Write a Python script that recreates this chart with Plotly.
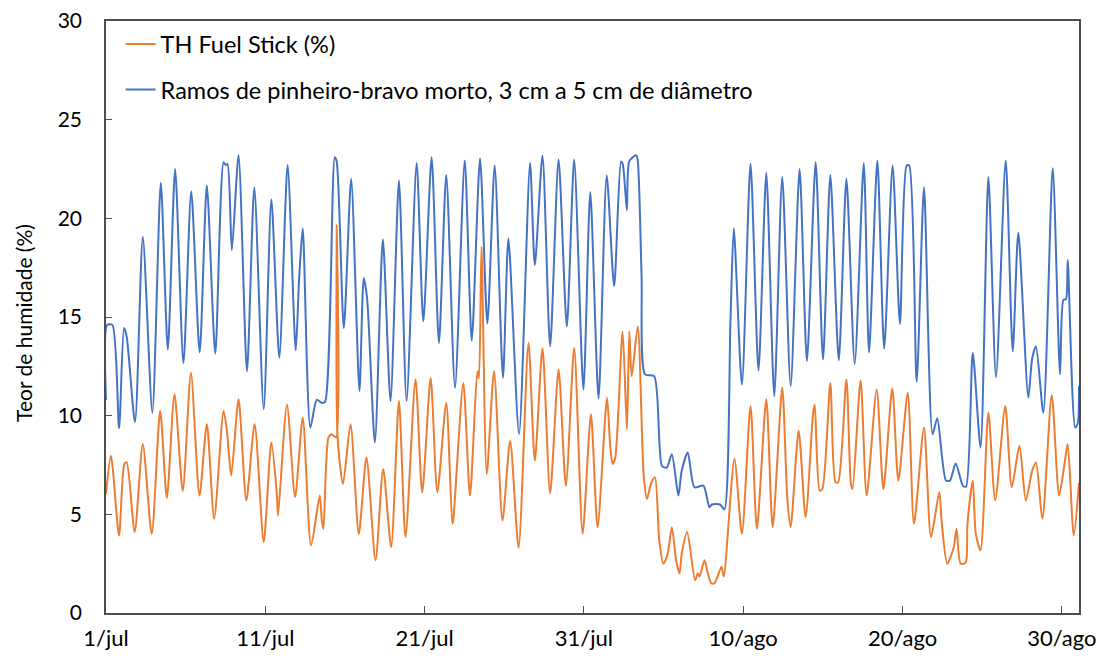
import pandas as pd
import plotly.graph_objects as go

# Days since 1 July (fractional) and moisture content (%)
orange_day = [0.0, 0.31, 0.82, 1.15, 1.30, 1.80, 2.31, 2.87, 3.40, 3.82, 4.30, 4.82, 5.33, 5.87,
              6.33, 6.79, 7.38, 7.59, 7.86, 8.32, 8.81, 9.33, 9.90, 10.38, 10.73, 10.80, 11.36, 11.87,
              12.35, 12.87, 13.42, 13.55, 13.65, 13.96, 14.17, 14.44, 14.48, 14.53, 14.88, 15.35, 15.87,
              16.35, 16.92, 17.40, 17.90, 18.39, 18.80, 19.43, 19.85, 20.38, 20.80, 21.36, 21.74, 21.80,
              22.43, 22.85, 23.31, 23.41, 23.57, 23.90, 24.36, 24.89, 25.37, 25.90, 26.52, 26.92, 27.40,
              27.88, 28.41, 28.87, 29.39, 29.92, 30.44, 30.86, 31.45, 31.66, 31.80, 31.97, 32.43, 32.70,
              32.85, 33.00, 33.38, 33.75, 33.96, 34.21, 34.46, 34.73, 34.99, 35.26, 35.52, 35.79, 36.00,
              36.14, 36.48, 36.98, 37.15, 37.25, 37.57, 37.78, 37.99, 38.20, 38.64, 38.78, 39.45, 39.92,
              40.46, 40.86, 41.45, 41.85, 42.45, 42.77, 42.98, 43.48, 43.92, 44.38, 44.49, 44.80, 44.97,
              45.47, 45.79, 45.96, 46.48, 46.76, 46.86, 47.37, 47.75, 48.38, 48.80, 49.36, 49.74, 50.33,
              50.72, 51.35, 51.79, 52.31, 52.47, 52.81, 53.22, 53.39, 53.65, 53.96, 54.08, 54.41, 54.60,
              54.90, 55.39, 55.82, 56.45, 56.86, 57.34, 57.74, 58.14, 58.38, 58.78, 59.37, 59.83, 60.17,
              60.37, 60.75, 61.08]
orange_val = [6.04, 7.97, 3.93, 7.55, 7.63, 4.10, 8.56, 4.01, 10.24, 5.83, 11.08, 6.20, 12.17, 5.95,
              9.57, 4.77, 10.24, 9.23, 6.96, 10.83, 5.70, 9.57, 3.60, 8.64, 5.95, 4.94, 10.57, 5.87,
              9.90, 3.43, 5.95, 4.68, 4.26, 8.89, 9.06, 8.90, 19.65, 9.00, 6.54, 9.57, 4.02,
              7.88, 2.67, 7.30, 3.34, 10.74, 3.85, 11.83, 6.12, 11.90, 6.12, 10.66, 4.52, 4.70,
              11.66, 5.95, 12.25, 11.90, 18.56, 7.04, 12.25, 4.69, 8.72, 3.31, 13.68, 7.72, 13.40,
              6.07, 12.34, 6.45, 13.43, 4.02, 10.07, 4.35, 10.91, 8.39, 7.55, 7.88, 14.27, 9.31,
              14.27, 12.00, 14.52, 7.04, 5.78, 6.54, 6.88, 3.68, 2.50, 3.00, 4.35, 2.67, 2.00,
              3.00, 4.10, 1.66, 2.00, 1.85, 2.67, 2.00, 1.51, 1.51, 2.35, 1.85, 7.80, 4.02,
              10.49, 4.27, 10.83, 4.35, 11.41, 5.78, 4.35, 9.23, 4.86, 10.07, 10.57, 6.20, 6.28,
              11.66, 6.62, 6.62, 11.83, 6.54, 6.28, 11.78, 5.95, 11.33, 6.28, 11.38, 6.71, 11.16,
              4.52, 9.40, 3.85, 6.12, 4.52, 2.50, 3.34, 4.27, 2.50, 2.55, 4.52, 6.71, 4.02,
              3.18, 10.15, 5.70, 10.49, 6.37, 8.47, 5.70, 7.21, 7.63, 4.77, 11.04, 5.95, 7.55,
              8.56, 3.93, 6.60]

blue_day = [0.0, 0.07, 0.40, 0.82, 1.13, 1.30, 1.82, 2.31, 2.91, 3.44, 3.88, 4.34, 4.86, 5.35, 5.88,
            6.33, 6.86, 7.38, 7.52, 7.63, 7.90, 8.32, 8.85, 9.31, 9.90, 10.38, 10.88, 11.40, 11.91,
            12.12, 12.35, 12.83, 13.23, 13.55, 13.75, 14.36, 14.48, 14.93, 15.39, 15.91, 16.18, 16.39,
            16.88, 17.38, 17.86, 18.39, 18.87, 19.50, 19.92, 20.44, 20.90, 21.36, 21.91, 22.52, 22.96,
            23.48, 23.94, 24.40, 24.92, 25.26, 25.93, 26.62, 26.92, 27.40, 27.88, 28.41, 28.93, 29.39,
            29.97, 30.40, 30.92, 31.43, 31.90, 32.33, 32.44, 32.70, 32.85, 33.27, 33.37, 33.62, 33.84,
            34.41, 34.90, 35.20, 35.52, 35.93, 36.14, 36.52, 36.94, 37.50, 37.88, 38.03, 38.55, 38.82,
            39.20, 39.41, 39.92, 40.46, 40.96, 41.45, 41.95, 42.45, 42.98, 43.54, 44.00, 44.55, 45.01,
            45.47, 46.00, 46.48, 47.00, 47.57, 47.90, 48.42, 48.85, 49.38, 49.84, 50.26, 50.42, 50.89,
            51.35, 51.89, 52.18, 52.73, 52.98, 53.34, 53.79, 53.99, 54.41, 54.90, 55.39, 55.87, 56.48,
            56.92, 57.27, 57.90, 58.14, 58.38, 58.84, 59.43, 59.89, 60.10, 60.26, 60.37, 60.84, 61.00,
            61.08]
blue_val = [10.80, 14.60, 14.60, 9.36, 14.44, 14.00, 9.68, 19.06, 10.15, 21.80, 13.35, 22.50, 12.67, 21.37, 13.20,
            21.67, 13.15, 22.84, 22.70, 22.75, 18.39, 23.20, 12.25, 21.58, 10.32, 20.96, 12.93, 22.70, 13.30,
            16.88, 19.48, 9.40, 10.80, 10.65, 10.70, 23.10, 22.90, 14.44, 22.00, 11.25, 16.96, 15.95,
            8.64, 18.94, 10.74, 21.92, 10.74, 22.81, 14.78, 23.10, 13.68, 22.20, 11.41, 22.93, 13.80,
            23.04, 14.67, 22.68, 11.92, 18.98, 9.06, 22.81, 17.63, 23.18, 13.51, 22.98, 14.52, 22.98,
            11.33, 21.33, 10.88, 22.17, 16.57, 22.88, 22.75, 20.41, 22.90, 23.20, 23.00, 17.10, 12.09,
            12.00, 7.46, 7.37, 8.05, 5.95, 7.21, 8.13, 6.37, 6.45, 5.36, 5.50, 5.50, 5.25,
            14.77, 19.48, 11.58, 22.76, 12.29, 22.30, 11.00, 22.09, 11.50, 22.50, 12.76, 22.85, 12.84,
            22.20, 12.80, 22.00, 12.62, 22.81, 13.20, 22.93, 13.40, 22.68, 14.65, 22.68, 22.68, 11.72,
            21.58, 9.06, 9.87, 6.71, 6.71, 7.58, 6.45, 6.40, 13.18, 8.39, 22.09, 11.95, 22.93,
            13.26, 19.28, 10.91, 12.90, 13.51, 10.15, 22.54, 12.09, 15.87, 15.90, 17.89, 9.40, 9.60,
            11.50]

tick_days = [0, 10, 20, 30, 40, 50, 60]
tick_text = ["1/jul", "11/jul", "21/jul", "31/jul", "10/ago", "20/ago", "30/ago"]
y_ticks = [0, 5, 10, 15, 20, 25, 30]

series_names = ["TH Fuel Stick (%)", "Ramos de pinheiro-bravo morto, 3 cm a 5 cm de diâmetro"]
y_title = "Teor de humidade (%)"

base = pd.Timestamp("2021-07-01")
to_dt = lambda d: [base + pd.Timedelta(days=v) for v in d]

FONT = "Lato"
AXIS = "#4d4d4d"

fig = go.Figure()
fig.add_trace(go.Scatter(x=to_dt(orange_day), y=orange_val, mode="lines", name=series_names[0],
                         legendgroup="a",
                         line=dict(color="#ED7D31", width=2, shape="spline", smoothing=0.7)))
fig.add_trace(go.Scatter(x=to_dt(blue_day), y=blue_val, mode="lines", name=series_names[1],
                         legendgroup="b",
                         line=dict(color="#4472C4", width=2, shape="spline", smoothing=0.7)))

# The page body adds an 8 px offset, so the figure is sized/margined to compensate
fig.update_layout(
    width=1097, height=658,
    margin=dict(l=98, r=26, t=13, b=53),
    paper_bgcolor="white", plot_bgcolor="white",
    font=dict(family=FONT, size=21, color="#000000"),
    showlegend=True,
    legend=dict(x=0.015, y=0.998, xanchor="left", yanchor="top",
                bgcolor="rgba(0,0,0,0)", font=dict(size=23.5, family=FONT),
                tracegroupgap=12, itemwidth=30),
    annotations=[dict(text=y_title, xref="paper", yref="paper", x=0, y=0.49,
                      xshift=-82, textangle=-90, showarrow=False,
                      xanchor="center", yanchor="middle", borderpad=0,
                      font=dict(size=21, family=FONT, color="#000000"))],
)
fig.update_xaxes(
    range=[base, base + pd.Timedelta(days=61.08)],
    tickvals=to_dt(tick_days), ticktext=tick_text,
    showgrid=False, zeroline=False, automargin=False,
    showline=True, linecolor=AXIS, linewidth=1.5, mirror=True,
    ticks="inside", ticklen=7, tickcolor=AXIS, tickwidth=1.2,
    ticklabelstandoff=5, ticklabeloverflow="allow",
    tickfont=dict(size=22, family=FONT),
)
fig.update_yaxes(
    range=[0, 30], tickvals=y_ticks,
    showgrid=False, zeroline=False, automargin=False,
    showline=True, linecolor=AXIS, linewidth=1.5, mirror=True,
    ticks="inside", ticklen=6, tickcolor=AXIS, tickwidth=1.2,
    ticklabelstandoff=18, ticklabeloverflow="allow",
    tickfont=dict(size=21, family=FONT),
)

fig.write_html("out.html")
